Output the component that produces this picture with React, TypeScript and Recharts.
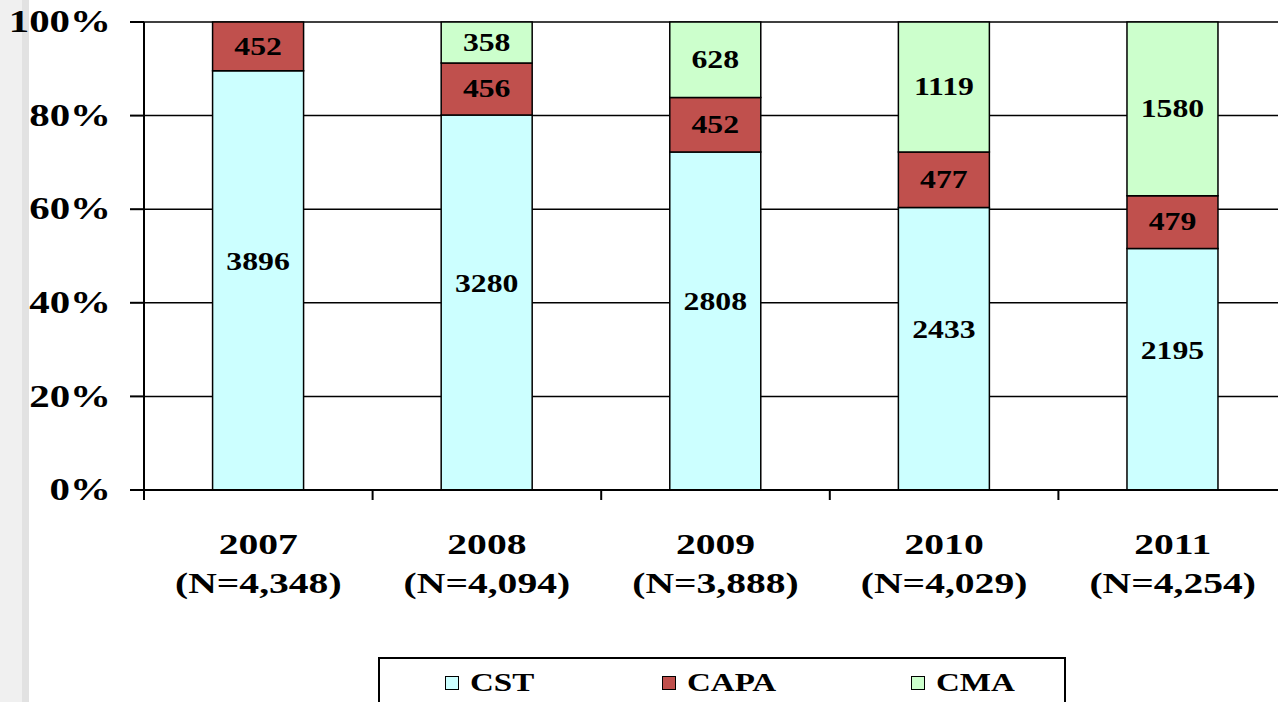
import { BarChart, Bar, XAxis, YAxis, CartesianGrid, LabelList } from "recharts";

const years = ["2007", "2008", "2009", "2010", "2011"];
const totals = ["(N=4,348)", "(N=4,094)", "(N=3,888)", "(N=4,029)", "(N=4,254)"];
const cst = [3896, 3280, 2808, 2433, 2195];
const capa = [452, 456, 452, 477, 479];
const cma = [0, 358, 628, 1119, 1580];
const yTicks = [0, 0.2, 0.4, 0.6, 0.8, 1];

const series = [
  { key: "CST", values: cst, color: "#CCFFFF", dy: -19 },
  { key: "CAPA", values: capa, color: "#C0504D", dy: 0 },
  { key: "CMA", values: cma, color: "#CCFFCC", dy: 0 },
];

const data = years.map((y, i) => ({
  year: y,
  n: totals[i],
  CST: cst[i],
  CAPA: capa[i],
  CMA: cma[i],
}));

const W = 1290;
const H = 702;
const LEFT = 144;
const RIGHT = 3;
const HALF = (W - LEFT - RIGHT) / years.length / 2;
const SX = 1.32;
const FONT = "Times New Roman, Liberation Serif, Tinos, Times, serif";

const YTick = (props: any) => {
  const { x, y, payload } = props;
  return (
    <g transform={`translate(${x},${y})`}>
      <text
        transform={`scale(${SX},1)`}
        textAnchor="end"
        dominantBaseline="central"
        fontFamily={FONT}
        fontWeight="bold"
        fontSize={31}
        fill="#000"
      >
        {Math.round(payload.value * 100)}%
      </text>
    </g>
  );
};

const XTick = (props: any) => {
  const { x, y, payload, index } = props;
  const row = data[index];
  return (
    <g>
      <line x1={x - HALF} x2={x - HALF} y1={y} y2={y + 10} stroke="#000" strokeWidth={2} />
      {index === years.length - 1 && (
        <line x1={x + HALF} x2={x + HALF} y1={y} y2={y + 10} stroke="#000" strokeWidth={2} />
      )}
      <g transform={`translate(${x},${y})`}>
        <text
          transform={`scale(${SX},1)`}
          textAnchor="middle"
          fontFamily={FONT}
          fontWeight="bold"
          fontSize={30}
          fill="#000"
        >
          <tspan x={0} y={64}>{payload.value}</tspan>
          <tspan x={0} y={103}>{row ? row.n : ""}</tspan>
        </text>
      </g>
    </g>
  );
};

const makeLabel = (dy: number) => (props: any) => {
  const { x, y, width, height, value } = props;
  if (!value) return null;
  return (
    <g transform={`translate(${x + width / 2},${y + height / 2 + dy})`}>
      <text
        transform="scale(1.27,1)"
        textAnchor="middle"
        dominantBaseline="central"
        fontFamily={FONT}
        fontWeight="bold"
        fontSize={25}
        fill="#000"
      >
        {value}
      </text>
    </g>
  );
};

const legendPos = [445, 662, 911];

export default function App() {
  return (
    <div
      style={{
        position: "absolute",
        left: 0,
        top: 0,
        width: 1278,
        height: 702,
        overflow: "hidden",
        background: "#fff",
      }}
    >
      <div style={{ position: "absolute", left: 0, top: 0, width: 22, height: 702, background: "#f0f0f0" }} />
      <div style={{ position: "absolute", left: 22, top: 0, width: 7, height: 702, background: "#e2e2e2" }} />
      <div style={{ position: "absolute", left: 0, top: 0 }}>
        <BarChart
          width={W}
          height={H}
          data={data}
          stackOffset="expand"
          barCategoryGap="30%"
          margin={{ top: 22, right: RIGHT, left: 0, bottom: 0 }}
        >
          <CartesianGrid vertical={false} stroke="#000" strokeWidth={1.5} />
          <XAxis
            dataKey="year"
            height={H - 490}
            axisLine={{ stroke: "#000", strokeWidth: 2 }}
            tickLine={false}
            tickSize={0}
            tickMargin={0}
            tick={<XTick />}
            interval={0}
          />
          <YAxis
            width={LEFT}
            domain={[0, 1]}
            ticks={yTicks}
            axisLine={{ stroke: "#000", strokeWidth: 2 }}
            tickLine={{ stroke: "#000", strokeWidth: 2 }}
            tickSize={14}
            tickMargin={19}
            tick={<YTick />}
            interval={0}
          />
          {series.map((s) => (
            <Bar
              key={s.key}
              dataKey={s.key}
              stackId="a"
              fill={s.color}
              stroke="#000"
              strokeWidth={1.5}
              isAnimationActive={false}
            >
              <LabelList dataKey={s.key} content={makeLabel(s.dy)} />
            </Bar>
          ))}
        </BarChart>
      </div>
      <div
        style={{
          position: "absolute",
          left: 378,
          top: 657,
          width: 688,
          height: 60,
          border: "2px solid #000",
          boxSizing: "border-box",
        }}
      />
      {series.map((s, i) => (
        <div key={s.key}>
          <div
            style={{
              position: "absolute",
              left: legendPos[i],
              top: 676,
              width: 12,
              height: 12,
              background: s.color,
              border: "1.5px solid #000",
            }}
          />
          <div
            style={{
              position: "absolute",
              left: legendPos[i] + 25,
              top: 668,
              fontFamily: FONT,
              fontWeight: "bold",
              fontSize: 25,
              lineHeight: "30px",
              transform: `scaleX(${SX})`,
              transformOrigin: "left center",
              whiteSpace: "nowrap",
            }}
          >
            {s.key}
          </div>
        </div>
      ))}
    </div>
  );
}
